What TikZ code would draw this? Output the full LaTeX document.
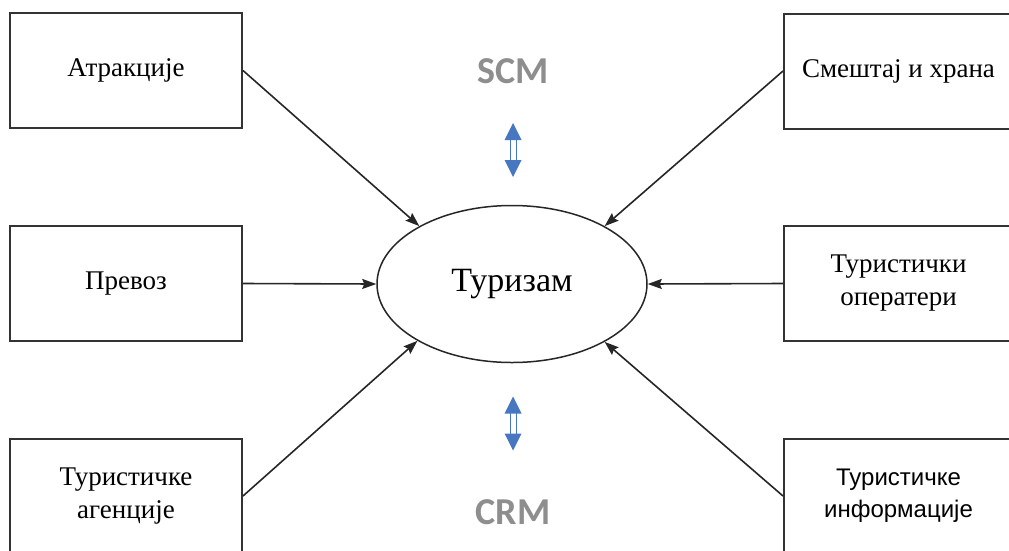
\documentclass[tikz,border=0pt]{standalone}
\usepackage{fontspec}
\setmainfont{Liberation Serif}
\newfontfamily\labelsans{Liberation Sans}
\newfontfamily\wordart{Carlito}
\usetikzlibrary{arrows.meta,shapes.geometric}

\definecolor{boxline}{HTML}{333333}
\definecolor{flowblue}{HTML}{4677C0}
\definecolor{artgray}{HTML}{8E8E8E}

\tikzset{
  box/.style={draw=boxline, line width=2pt, fill=white, minimum height=115pt,
    inner sep=0pt, align=center, font=\fontsize{27}{33}\selectfont},
  leftbox/.style={box, minimum width=232pt},
  rightbox/.style={box, minimum width=229pt},
  hub/.style={draw=black!85, line width=1.5pt, ellipse, minimum width=270pt,
    minimum height=157pt, inner sep=0pt, font=\fontsize{34}{40}\selectfont},
  feed/.style={draw=black!85, line width=1.6pt,
    -{Stealth[length=14pt,width=10pt,inset=2pt]}},
  chain/.style={text=artgray, font=\wordart\bfseries\fontsize{38}{44}\selectfont},
  updown/.pic={
    \draw[flowblue, fill=white, line width=1pt] (-3,-11) rectangle (3,11);
    \fill[flowblue] (0,-27) -- (8.5,-10) -- (-8.5,-10) -- cycle;
    \fill[flowblue] (0,27) -- (8.5,10) -- (-8.5,10) -- cycle;
  }
}

\begin{document}
\begin{tikzpicture}[x=1pt, y=-1pt]
  \useasboundingbox (0,0) rectangle (1009,550);
  \clip (0,0) rectangle (1009,550);

  % central node
  \node[hub] (t) at (512,284) {Туризам};

  % providers on the left
  \node[leftbox] (atr) at (126,70.5) {Атракције};
  \node[leftbox] (pre) at (126,283.5) {Превоз};
  \node[leftbox] (age) at (126,496) {Туристичке\\агенције};

  % providers on the right
  \node[rightbox] (sme) at (898.5,71) {Смештај и храна};
  \node[rightbox] (ope) at (898.5,283.5) {Туристички\\оператери};
  \node[rightbox, font=\labelsans\fontsize{24}{32}\selectfont] (inf) at (898.5,496)
    {Туристичке\\информације};

  % flows into the hub
  \draw[feed] (atr.east) -- (t.148);
  \draw[feed] (pre.east) -- (t.west);
  \draw[feed] (age.east) -- (t.211);
  \draw[feed] (sme.west) -- (t.32);
  \draw[feed] (ope.west) -- (t.east);
  \draw[feed] (inf.west) -- (t.328);

  % supply and customer management labels
  \node[chain] (scm) at (513,71) {SCM};
  \node[chain] (crm) at (513,512) {CRM};
  \pic at (513,150) {updown};
  \pic at (513,423.5) {updown};
\end{tikzpicture}
\end{document}
